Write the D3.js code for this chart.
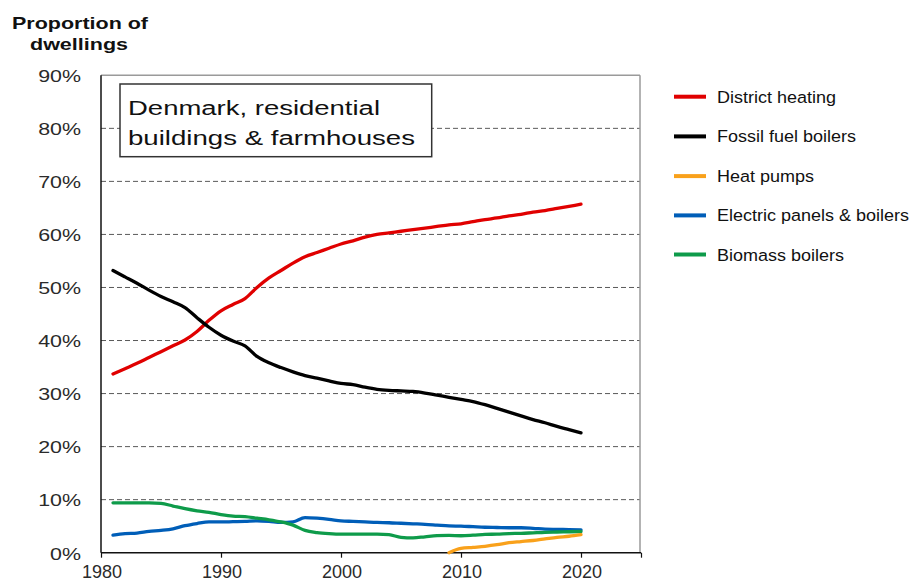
<!DOCTYPE html>
<html>
<head>
<meta charset="utf-8">
<script src="https://cdn.jsdelivr.net/npm/d3@7/dist/d3.min.js"></script>
<style>
  html, body { margin: 0; padding: 0; background: #fff; }
  svg { display: block; font-family: "Liberation Sans", Arial, sans-serif; }
</style>
</head>
<body>
<svg id="chart" width="912" height="583"></svg>
<script>
// ---------- DATA ----------
const years = d3.range(1981, 2021);
const districtHeating = [33.7,34.7,35.7,36.8,37.9,39.0,40.1,41.7,43.8,45.6,46.8,47.9,50.0,51.8,53.2,54.6,55.8,56.6,57.4,58.2,58.8,59.5,60.0,60.3,60.6,60.9,61.2,61.5,61.8,62.0,62.4,62.8,63.1,63.5,63.8,64.2,64.5,64.9,65.3,65.7];
const fossilFuel = [53.2,52.0,50.8,49.5,48.3,47.3,46.2,44.3,42.5,41.0,39.9,39.0,37.0,35.8,34.9,34.1,33.4,32.9,32.4,31.9,31.7,31.2,30.8,30.6,30.5,30.4,30.1,29.7,29.3,28.9,28.5,27.9,27.2,26.5,25.8,25.1,24.5,23.8,23.2,22.6];
const heatPumps = [null,null,null,null,null,null,null,null,null,null,null,null,null,null,null,null,null,null,null,null,null,null,null,null,null,null,null,null,0.0,0.8,1.0,1.2,1.5,1.9,2.1,2.3,2.6,2.9,3.1,3.4];
const electric = [3.3,3.6,3.7,4.0,4.2,4.5,5.1,5.5,5.8,5.8,5.85,5.9,6.0,5.9,5.7,5.8,6.6,6.5,6.3,6.0,5.9,5.8,5.7,5.65,5.55,5.45,5.35,5.2,5.05,5.0,4.9,4.8,4.75,4.7,4.7,4.6,4.45,4.4,4.35,4.3];
const biomass = [9.4,9.4,9.4,9.4,9.3,8.8,8.3,7.9,7.6,7.2,6.9,6.8,6.5,6.2,5.8,5.2,4.2,3.8,3.6,3.5,3.5,3.5,3.5,3.4,2.9,2.8,3.0,3.2,3.25,3.2,3.3,3.45,3.5,3.6,3.65,3.75,3.85,3.9,3.95,4.0];

const seriesNames = ["District heating","Fossil fuel boilers","Heat pumps","Electric panels & boilers","Biomass boilers"];
const seriesValues = [districtHeating, fossilFuel, heatPumps, electric, biomass];
const seriesColors = ["#e00000","#000000","#f9a11b","#005eb8","#0e9b4a"];
const drawOrder = [0,1,3,4,2];

const xTicks = [1980,1990,2000,2010,2020];
const yTicks = [0,10,20,30,40,50,60,70,80,90];
const annotationLines = ["Denmark, residential","buildings & farmhouses"];
const yTitleLines = ["Proportion of","dwellings"];

// ---------- LAYOUT ----------
const svg = d3.select("#chart");
const L = 101, R = 641, T = 75.3, B = 552.7;
const x = d3.scaleLinear().domain([1980, 2025]).range([L, R]);
const y = d3.scaleLinear().domain([0, 90]).range([B, T]);

// gridlines
svg.append("g").selectAll("line").data(yTicks.filter(v => v > 0 && v < 90)).join("line")
  .attr("x1", L).attr("x2", R - 1).attr("y1", d => y(d)).attr("y2", d => y(d))
  .attr("stroke", "#5a5a5a").attr("stroke-width", 1).attr("stroke-dasharray", "5,3");

// frame top/right
svg.append("line").attr("x1", L).attr("x2", R - 1).attr("y1", T).attr("y2", T).attr("stroke", "#9a9a9a").attr("stroke-width", 1.5);
svg.append("line").attr("x1", R - 1).attr("x2", R - 1).attr("y1", T).attr("y2", B).attr("stroke", "#9a9a9a").attr("stroke-width", 1.5);

// x axis
const xAxis = d3.axisBottom(x).tickValues(xTicks.concat([2025])).tickSize(5).tickFormat(d => d === 2025 ? "" : d);
const gx = svg.append("g").attr("transform", `translate(0,${B})`).call(xAxis);
gx.select(".domain").attr("stroke", "#111").attr("stroke-width", 1.5).attr("d", `M${L},0H${R}`);
gx.selectAll(".tick line").attr("stroke", "#111").attr("stroke-width", 1.2);
gx.selectAll(".tick text").attr("font-size", 17.5).attr("fill", "#2a2a2a").attr("dy", null).attr("y", 0)
  .attr("transform", "translate(0.5,25.5) scale(1.03,1)").attr("font-family", "Liberation Sans, Arial, sans-serif");

// y axis
const yAxis = d3.axisLeft(y).tickValues(yTicks).tickSize(0).tickPadding(0).tickFormat(d => d + "%");
const gy = svg.append("g").attr("transform", `translate(${L},0)`).call(yAxis);
gy.select(".domain").attr("stroke", "#111").attr("stroke-width", 1.5).attr("d", `M0,${T}V${B}`);
gy.selectAll(".tick text").attr("font-size", 17).attr("fill", "#2a2a2a").attr("x", 0).attr("dy", null)
  .attr("transform", "translate(-20,6.3) scale(1.26,1)").attr("font-family", "Liberation Sans, Arial, sans-serif");

// lines
const line = d3.line().defined(d => d.v !== null).x(d => x(d.yr)).y(d => y(d.v)).curve(d3.curveMonotoneX);
drawOrder.forEach(i => {
  const data = years.map((yr, k) => ({ yr, v: seriesValues[i][k] }));
  svg.append("path").datum(data).attr("d", line).attr("fill", "none")
    .attr("stroke", seriesColors[i]).attr("stroke-width", 3.3).attr("stroke-linejoin", "round").attr("stroke-linecap", "round");
});

// annotation box
svg.append("rect").attr("x", 120).attr("y", 84).attr("width", 311.7).attr("height", 72.7)
  .attr("fill", "#fff").attr("stroke", "#333").attr("stroke-width", 1.5);
const annWidths = [252, 287];
svg.selectAll(".ann").data(annotationLines).join("text").attr("class", "ann")
  .attr("x", 128).attr("y", (d, i) => 115 + i * 30)
  .attr("font-size", 19.5).attr("fill", "#111")
  .attr("textLength", (d, i) => annWidths[i]).attr("lengthAdjust", "spacingAndGlyphs")
  .text(d => d);

// y title
const titleX = [12, 30], titleW = [136, 98], titleY = [29, 50];
svg.selectAll(".ytitle").data(yTitleLines).join("text").attr("class", "ytitle")
  .attr("x", (d, i) => titleX[i]).attr("y", (d, i) => titleY[i])
  .attr("font-size", 16.7).attr("font-weight", "bold").attr("fill", "#111")
  .attr("textLength", (d, i) => titleW[i]).attr("lengthAdjust", "spacingAndGlyphs")
  .text(d => d);

// legend
const legY = [96.7, 136.4, 176.1, 215.4, 254.5];
const leg = svg.append("g");
seriesNames.forEach((name, i) => {
  leg.append("line").attr("x1", 674).attr("x2", 706).attr("y1", legY[i]).attr("y2", legY[i])
    .attr("stroke", seriesColors[i]).attr("stroke-width", 4);
  leg.append("text").attr("transform", `translate(717,${legY[i] + 6}) scale(1.06,1)`)
    .attr("font-size", 17).attr("fill", "#111").text(name);
});
</script>
</body>
</html>
